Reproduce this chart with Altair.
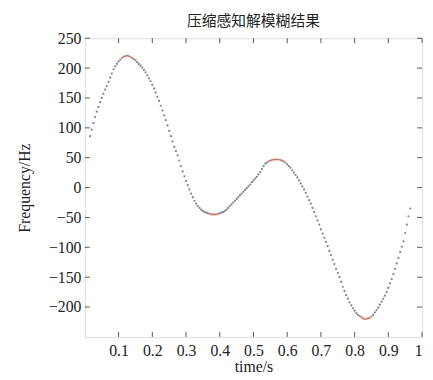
import altair as alt
import pandas as pd

title_text = "压缩感知解模糊结果"
x_title = "time/s"
y_title = "Frequency/Hz"

time_a = [0.015, 0.025, 0.035, 0.045, 0.055, 0.065, 0.075, 0.085, 0.095, 0.105,
          0.115, 0.125, 0.135, 0.145, 0.155, 0.165, 0.175, 0.185, 0.195, 0.205,
          0.215, 0.225, 0.235, 0.245, 0.255, 0.265, 0.275, 0.285, 0.295, 0.305,
          0.315, 0.325, 0.335, 0.345, 0.355, 0.365, 0.375, 0.385, 0.395, 0.405,
          0.415, 0.425, 0.435, 0.445, 0.455, 0.465, 0.475, 0.485, 0.495, 0.505,
          0.515, 0.525, 0.535, 0.545, 0.555, 0.565, 0.575, 0.585, 0.595, 0.605,
          0.615, 0.625, 0.635, 0.645, 0.655, 0.665, 0.675, 0.685, 0.695, 0.705,
          0.715, 0.725, 0.735, 0.745, 0.755, 0.765, 0.775, 0.785, 0.795, 0.805,
          0.815, 0.825, 0.835, 0.845, 0.855, 0.865, 0.875, 0.885, 0.895, 0.905,
          0.915, 0.925, 0.935, 0.945, 0.955, 0.965]
freq_a = [86, 108, 127, 143, 157, 170, 184, 198, 207, 214,
          219, 221, 219, 215, 210, 204, 197, 188, 178, 166,
          152, 137, 121, 104, 86, 68, 54, 36, 19, 4,
          -10, -22, -31, -37, -41, -43, -45, -45, -44, -42,
          -39, -34, -28, -22, -16, -10, -4, 2, 9, 15,
          22, 31, 40, 44, 46, 47, 47, 45, 42, 36,
          29, 21, 12, 2, -9, -21, -34, -48, -62, -77,
          -91, -106, -121, -136, -150, -166, -180, -192, -202, -210,
          -215, -219, -220, -218, -213, -205, -196, -186, -175, -160,
          -145, -127, -108, -90, -62, -35]

time_b = [0.02, 0.03, 0.04, 0.05, 0.06, 0.07, 0.08, 0.09, 0.10, 0.11,
          0.12, 0.13, 0.14, 0.15, 0.16, 0.17, 0.18, 0.19, 0.20, 0.21,
          0.22, 0.23, 0.24, 0.25, 0.26, 0.27, 0.28, 0.29, 0.30, 0.31,
          0.32, 0.33, 0.34, 0.35, 0.36, 0.37, 0.38, 0.39, 0.40, 0.41,
          0.42, 0.43, 0.44, 0.45, 0.46, 0.47, 0.48, 0.49, 0.50, 0.51,
          0.52, 0.53, 0.54, 0.55, 0.56, 0.57, 0.58, 0.59, 0.60, 0.61,
          0.62, 0.63, 0.64, 0.65, 0.66, 0.67, 0.68, 0.69, 0.70, 0.71,
          0.72, 0.73, 0.74, 0.75, 0.76, 0.77, 0.78, 0.79, 0.80, 0.81,
          0.82, 0.83, 0.84, 0.85, 0.86, 0.87, 0.88, 0.89, 0.90, 0.91,
          0.92, 0.93, 0.94, 0.95, 0.96]
freq_b = [97, 118, 135, 150, 164, 177, 191, 203, 211, 217,
          220, 220, 217, 213, 207, 201, 193, 183, 172, 159,
          145, 129, 113, 95, 77, 61, 45, 27, 11, -3,
          -16, -27, -34, -39, -42, -44, -45, -45, -43, -41,
          -37, -31, -25, -19, -13, -7, -1, 5, 12, 18,
          26, 36, 42, 45, 47, 47, 46, 44, 39, 33,
          25, 17, 7, -3, -15, -27, -41, -55, -70, -84,
          -98, -113, -128, -143, -158, -173, -186, -197, -206, -213,
          -217, -220, -219, -216, -209, -201, -191, -181, -168, -153,
          -136, -118, -99, -76, -48]

x_ticks = [0.1, 0.2, 0.3, 0.4, 0.5, 0.6, 0.7, 0.8, 0.9, 1.0]
y_ticks = [-200, -150, -100, -50, 0, 50, 100, 150, 200, 250]

df = pd.DataFrame({"t": time_a + time_b, "f": freq_a + freq_b})
xt = pd.DataFrame({"t": x_ticks})
yt = pd.DataFrame({"f": y_ticks})

W, H = 342, 303
FONT = "Liberation Serif"
xscale = alt.Scale(domain=[0, 1], nice=False, zero=False)
yscale = alt.Scale(domain=[-250, 250], nice=False, zero=False)

x_axis = alt.Axis(title=x_title, values=x_ticks, format="~g", ticks=False,
                  domain=False, grid=False, labelPadding=6, labelOverlap=False,
                  labelFont=FONT, labelFontSize=16, labelColor="#222",
                  titleFont=FONT, titleFontSize=16, titleFontWeight="normal",
                  titleColor="#222", titlePadding=0)
y_axis = alt.Axis(title=y_title, values=y_ticks, ticks=False, domain=False,
                  grid=False, labelPadding=4, labelOverlap=False,
                  labelFont=FONT, labelFontSize=16, labelColor="#222",
                  titleFont=FONT, titleFontSize=16, titleFontWeight="normal",
                  titleColor="#222", titlePadding=16)

pts = alt.Chart(df).mark_circle(size=5, opacity=0.7).encode(
    x=alt.X("t:Q", scale=xscale, axis=x_axis),
    y=alt.Y("f:Q", scale=yscale, axis=y_axis),
    color=alt.condition("abs(datum.f) > 214 || abs(abs(datum.f) - 45.5) < 2.5",
                        alt.value("#b0503a"), alt.value("#4b4f63")),
)

tick_color = "#555"
bx = alt.Chart(xt).mark_rule(color=tick_color, strokeWidth=1).encode(
    x=alt.X("t:Q", scale=xscale, axis=x_axis), y=alt.value(H), y2=alt.value(H - 5))
tx = alt.Chart(xt).mark_rule(color=tick_color, strokeWidth=1).encode(
    x=alt.X("t:Q", scale=xscale, axis=x_axis), y=alt.value(0), y2=alt.value(5))
ly = alt.Chart(yt).mark_rule(color=tick_color, strokeWidth=1).encode(
    y=alt.Y("f:Q", scale=yscale, axis=y_axis), x=alt.value(0), x2=alt.value(5))
ry = alt.Chart(yt).mark_rule(color=tick_color, strokeWidth=1).encode(
    y=alt.Y("f:Q", scale=yscale, axis=y_axis), x=alt.value(W), x2=alt.value(W - 5))

chart = alt.layer(pts, bx, tx, ly, ry).properties(
    width=W, height=H,
    title=alt.TitleParams(title_text, font="Noto Sans CJK SC", fontSize=15,
                          fontWeight="normal", color="#222", anchor="middle", offset=1),
    autosize=alt.AutoSizeParams(type="none"),
    padding={"left": 78, "top": 28, "right": 3, "bottom": 40},
).configure_view(stroke="#555", strokeWidth=1.2).configure(background="white")

chart.save("out.html", embed_options={"renderer": "svg", "actions": False})
